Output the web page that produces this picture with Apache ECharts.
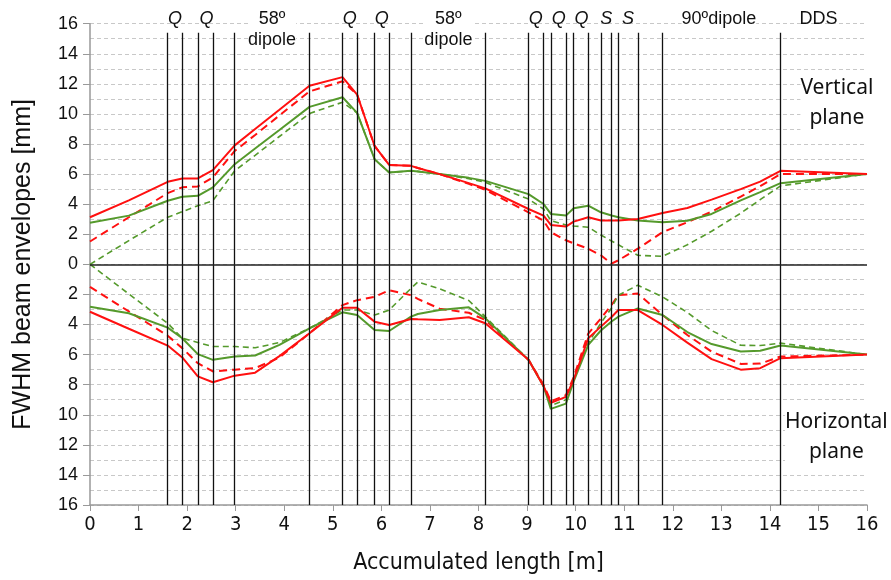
<!DOCTYPE html>
<html>
<head>
<meta charset="utf-8">
<script src="https://cdn.jsdelivr.net/npm/echarts@6/dist/echarts.min.js"></script>
<style>
  html, body { margin: 0; padding: 0; background: #fff; }
  #container { width: 891px; height: 580px; }
</style>
</head>
<body>
<div id="container"></div>
<script>
// positions along the beam line [m]
const lengthKnots = [0, 0.8, 1.6, 1.9, 2.22, 2.53, 2.98, 3.4, 3.9, 4.52, 5.2, 5.5, 5.86, 6.16, 6.61, 6.75,
                     7.2, 7.8, 8.14, 9.03, 9.34, 9.49, 9.8, 9.96, 10.26, 10.52, 10.74, 10.88, 11.28, 11.79,
                     12.3, 12.8, 13.4, 13.8, 14.22, 16];

// vertical plane (upper half)
const vertRed      = [3.13, 4.25, 5.49, 5.71, 5.71, 6.26, 7.91, 9.0, 10.28, 11.88, 12.45, 11.29, 7.87, 6.61, 6.55, 6.41,
                      6.0, 5.4, 5.05, 3.68, 3.24, 2.62, 2.51, 2.84, 3.13, 2.91, 2.91, 2.91, 3.02, 3.42,
                      3.75, 4.3, 5.0, 5.5, 6.22, 6.0];
const vertRedDash  = [1.52, 3.13, 4.74, 5.12, 5.18, 5.78, 7.54, 8.6, 9.9, 11.5, 12.17, 11.29, 7.87, 6.61, 6.55, 6.41,
                      6.0, 5.35, 4.95, 3.46, 2.9, 2.14, 1.6, 1.4, 1.04, 0.6, 0.05, 0.27, 1.04, 2.14,
                      2.8, 3.5, 4.5, 5.2, 6.0, 6.0];
const vertGreen    = [2.76, 3.24, 4.23, 4.5, 4.56, 5.12, 6.66, 7.7, 8.93, 10.47, 11.11, 10.07, 6.99, 6.11, 6.22, 6.18,
                      6.0, 5.75, 5.55, 4.67, 4.01, 3.35, 3.24, 3.73, 3.9, 3.46, 3.25, 3.13, 2.91, 2.8,
                      2.9, 3.35, 4.25, 4.8, 5.4, 6.0];
const vertGreenDash = [0, 1.58, 3.13, 3.5, 3.9, 4.23, 6.22, 7.25, 8.5, 10.03, 10.78, 10.07, 6.99, 6.11, 6.22, 6.18,
                      6.0, 5.7, 5.45, 4.34, 3.68, 2.91, 2.62, 2.55, 2.47, 1.95, 1.55, 1.3, 0.6, 0.53,
                      1.3, 2.2, 3.4, 4.3, 5.22, 6.0];

// horizontal plane (lower half, plotted negative)
const horRed       = [-3.15, -4.28, -5.4, -6.19, -7.45, -7.84, -7.4, -7.2, -6.1, -4.58, -2.88, -2.88, -3.81, -4.03, -3.63, -3.65,
                      -3.7, -3.52, -3.92, -6.35, -8.1, -9.21, -8.81, -7.67, -4.91, -4.14, -3.5, -3.04, -3.04, -4.03,
                      -5.2, -6.3, -7.0, -6.9, -6.24, -6.0];
const horRedDash   = [-1.5, -3.13, -4.74, -5.57, -6.57, -7.12, -7.0, -6.9, -6.2, -4.58, -2.71, -2.38, -2.16, -1.72, -2.05, -2.3,
                      -2.95, -3.22, -3.7, -6.35, -8.0, -9.1, -8.7, -7.5, -4.6, -3.6, -2.7, -2.05, -1.94, -3.37,
                      -4.7, -5.8, -6.62, -6.6, -6.13, -6.0];
const horGreen     = [-2.82, -3.25, -4.21, -4.91, -5.97, -6.35, -6.12, -6.06, -5.35, -4.25, -3.19, -3.37, -4.36, -4.43, -3.48, -3.3,
                      -3.04, -2.86, -3.59, -6.35, -8.1, -9.61, -9.26, -7.78, -5.35, -4.4, -3.8, -3.48, -2.93, -3.37,
                      -4.5, -5.3, -5.8, -5.75, -5.4, -6.0];
const horGreenDash = [0, -1.97, -3.92, -4.91, -5.2, -5.46, -5.46, -5.55, -5.2, -4.25, -3.04, -3.04, -3.37, -3.04, -1.6, -1.17,
                      -1.63, -2.4, -3.48, -6.35, -8.1, -9.4, -9.0, -7.6, -5.24, -3.9, -2.9, -2.05, -1.39, -2.16,
                      -3.2, -4.4, -5.38, -5.4, -5.24, -6.0];

// element boundaries [m]
const boundaries = [1.6, 1.9, 2.22, 2.53, 2.98, 4.52, 5.2, 5.5, 5.86, 6.16, 6.61, 8.14,
                    9.03, 9.34, 9.49, 9.8, 9.96, 10.26, 10.52, 10.74, 10.88, 11.28, 11.79, 14.21];

// element names above the plot: [text, x position, italic]
const elementLabels = [
  ['Q', 1.75, true], ['Q', 2.4, true], ['58º\ndipole', 3.75, false],
  ['Q', 5.35, true], ['Q', 6.01, true], ['58º\ndipole', 7.38, false],
  ['Q', 9.18, true], ['Q', 9.65, true], ['Q', 10.12, true], ['S', 10.63, true], ['S', 11.08, true],
  ['90ºdipole', 12.95, false], ['DDS', 15.0, false]
];

const RED = '#ff1010';
const GREEN = '#559a2c';
const NARROW = "'DejaVu Sans Condensed', 'Liberation Sans Narrow', 'Liberation Sans', sans-serif";

function pairs(ys) {
  return lengthKnots.map((x, i) => [x, ys[i]]);
}

function curve(name, ys, color, dashed) {
  return {
    name: name,
    type: 'line',
    symbol: 'none',
    data: pairs(ys),
    z: dashed ? 3 : 4,
    lineStyle: {
      color: color,
      width: dashed ? (color === RED ? 2 : 1.6) : 2,
      type: dashed ? (color === RED ? [8, 5] : [6, 4]) : 'solid'
    }
  };
}

const vLines = boundaries.map(b => [
  { coord: [b, -16] },
  { coord: [b, 15.4] }
]);

let option = {
  animation: false,
  grid: { left: 90, right: 24, top: 23.7, bottom: 72.3 },
  xAxis: {
    type: 'value',
    min: 0, max: 16, interval: 1,
    name: 'Accumulated length [m]',
    nameLocation: 'middle',
    nameGap: 47,
    nameTextStyle: { fontFamily: NARROW, fontSize: 23, color: '#111' },
    axisLine: { onZero: false, lineStyle: { color: '#999', width: 1.5 } },
    axisTick: { length: 6, lineStyle: { color: '#999' } },
    axisLabel: { fontFamily: NARROW, fontSize: 20, color: '#111', margin: 10 },
    splitLine: { show: false }
  },
  yAxis: {
    type: 'value',
    min: -16, max: 16, interval: 2,
    name: 'FWHM beam envelopes [mm]',
    nameLocation: 'middle',
    nameGap: 54,
    nameTextStyle: { fontFamily: 'Liberation Sans', fontSize: 25, color: '#111' },
    axisLine: { show: true, lineStyle: { color: '#999', width: 1.5 } },
    axisTick: { show: true, length: 7, lineStyle: { color: '#999' } },
    axisLabel: {
      fontFamily: 'Liberation Sans', fontSize: 18, color: '#111', margin: 12,
      formatter: v => String(Math.abs(v))
    },
    splitLine: { show: true, lineStyle: { color: '#c8c8c8', type: [4, 3] } },
    minorTick: { show: false, splitNumber: 2 },
    minorSplitLine: { show: true, lineStyle: { color: '#c8c8c8', type: [4, 3] } }
  },
  series: [
    curve('V red dashed', vertRedDash, RED, true),
    curve('V green dashed', vertGreenDash, GREEN, true),
    curve('H red dashed', horRedDash, RED, true),
    curve('H green dashed', horGreenDash, GREEN, true),
    curve('V green', vertGreen, GREEN, false),
    curve('V red', vertRed, RED, false),
    curve('H green', horGreen, GREEN, false),
    curve('H red', horRed, RED, false),
    {
      name: 'boundaries',
      type: 'line',
      data: [],
      z: 2,
      markLine: {
        silent: true,
        symbol: 'none',
        animation: false,
        label: { show: false },
        lineStyle: { color: '#111', width: 1.3, type: 'solid' },
        data: vLines.concat([{ yAxis: 0, lineStyle: { color: '#222', width: 1.5 } }])
      }
    }
  ]
};

let chartDom = document.getElementById('container');
let chrt = echarts.init(chartDom, null, { renderer: 'canvas' });
chrt.setOption(option);

// element names and plane captions, positioned through the axes
let texts = elementLabels.map(function (item) {
  let pos = chrt.convertToPixel('grid', [item[1], 16]);
  return {
    type: 'text',
    x: pos[0],
    y: pos[1] - 15,
    style: {
      text: item[0],
      fontFamily: 'Liberation Sans',
      fontSize: 18,
      fontStyle: item[2] ? 'italic' : 'normal',
      fill: '#111',
      align: 'center',
      verticalAlign: 'top',
      lineHeight: 21,
      backgroundColor: item[0].indexOf('dipole') >= 0 ? '#fff' : null
    },
    z: 10
  };
});

let vPos = chrt.convertToPixel('grid', [15.38, 10.7]);
let hPos = chrt.convertToPixel('grid', [15.37, -11.45]);
texts.push({
  type: 'text', x: vPos[0], y: vPos[1],
  style: { text: 'Vertical\nplane', fontFamily: 'Noto Sans', fontSize: 21, fill: '#111',
           align: 'center', verticalAlign: 'middle', lineHeight: 30, backgroundColor: '#fff' },
  z: 10
});
texts.push({
  type: 'text', x: hPos[0], y: hPos[1],
  style: { text: 'Horizontal\nplane', fontFamily: 'Noto Sans', fontSize: 21, fill: '#111',
           align: 'center', verticalAlign: 'middle', lineHeight: 30, backgroundColor: '#fff' },
  z: 10
});

chrt.setOption({ graphic: texts });
</script>
</body>
</html>
